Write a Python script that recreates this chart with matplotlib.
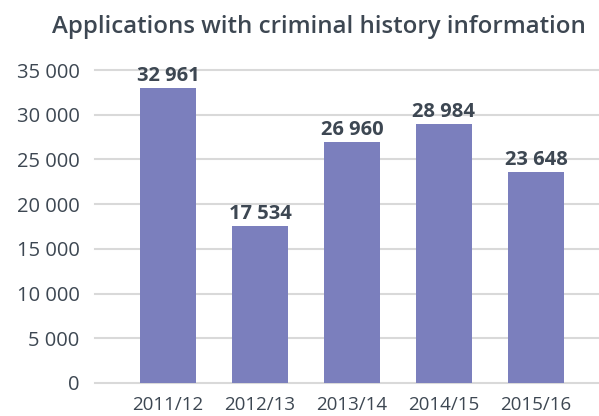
import matplotlib
matplotlib.use("Agg")
import matplotlib.pyplot as plt
from matplotlib.ticker import FuncFormatter

categories = ["2011/12", "2012/13", "2013/14", "2014/15", "2015/16"]
values = [32961, 17534, 26960, 28984, 23648]
yticks = [0, 5000, 10000, 15000, 20000, 25000, 30000, 35000]

plt.rcParams['font.family'] = ['Open Sans', 'DejaVu Sans']
text_color = "#3d4752"
bar_color = "#7b7fbd"
grid_color = "#d9d9d9"

fig = plt.figure(figsize=(5.99, 4.16), dpi=100)
ax = fig.add_axes([95/599, 1-383/416, 504/599, (383-70)/416])

x = list(range(len(categories)))
ax.bar(x, values, width=0.61, color=bar_color, zorder=3)

def fmt(v):
    return f"{int(v):,}".replace(",", " ")

for xi, v in zip(x, values):
    ax.text(xi, v + 200, fmt(v), ha="center", va="bottom", fontsize=14.5,
            fontweight="bold", color=text_color, zorder=4)

ax.set_xlim(-0.793, 4.685)
ax.set_ylim(0, 35000)
ax.set_yticks(yticks)
ax.yaxis.set_major_formatter(FuncFormatter(lambda v, p: fmt(v)))
ax.set_xticks(x)
ax.set_xticklabels(categories)
ax.tick_params(axis="y", length=0, pad=11, labelsize=14.5, labelcolor=text_color)
ax.tick_params(axis="x", length=0, pad=9, labelsize=13.5, labelcolor=text_color)
ax.grid(axis="y", color=grid_color, linewidth=1.5, zorder=0)
for s in ax.spines.values():
    s.set_visible(False)
for gl in ax.get_ygridlines():
    gl.set_clip_on(False)

fig.text(319/599, 1-33/416, "Applications with criminal history information",
         ha="center", va="baseline", fontsize=17.3, fontweight="semibold", color=text_color)

fig.savefig("out.png", dpi=100)
